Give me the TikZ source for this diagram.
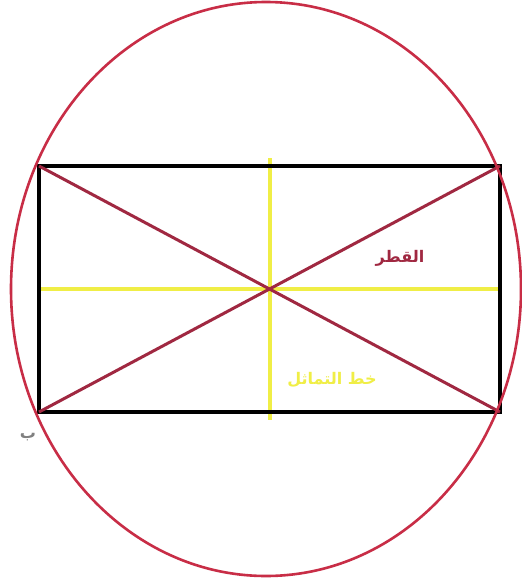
\documentclass[tikz,border=0pt]{standalone}
\usepackage{fontspec}
\newfontfamily\arabicfont[Script=Arabic]{DejaVu Sans}
\TeXXeTstate=1
\definecolor{circred}{RGB}{200,45,70}
\definecolor{diagred}{RGB}{160,40,65}
\definecolor{symyel}{RGB}{240,238,70}
\begin{document}
\begin{tikzpicture}[x=1pt,y=-1pt,
  rectline/.style={line width=4pt,black},
  diagline/.style={line width=3pt,diagred},
  symline/.style={line width=4.5pt,symyel},
  lbl/.style={font=\arabicfont\bfseries\fontsize{16}{16}\selectfont}]
\useasboundingbox (0,0) rectangle (522,579);
\fill[white] (0,0) rectangle (522,579);
\coordinate (A) at (39,166);
\coordinate (D) at (500,166);
\coordinate (C) at (500,412);
\coordinate (B) at (39,412);
\coordinate (O) at (270,289);
\coordinate (T) at (270,158);
\coordinate (Bo) at (270,420);
\coordinate (L) at (39,289);
\coordinate (R) at (500,289);
\draw[symline] (L) -- (R);
\draw[symline] (T) -- (Bo);
\draw[rectline] (A) rectangle (C);
\draw[diagline] (A) -- (C);
\draw[diagline] (B) -- (D);
\draw[circred,line width=2.6pt] (266,289) ellipse [x radius=255, y radius=287];
\node[lbl,text=diagred] (q) at (400,258) {\beginR القطر\endR};
\node[lbl,text=symyel] (s) at (332,380) {\beginR خط التماثل\endR};
\node[lbl,text=gray] (b) at (28,437) {\beginR ب\endR};
\end{tikzpicture}
\end{document}
